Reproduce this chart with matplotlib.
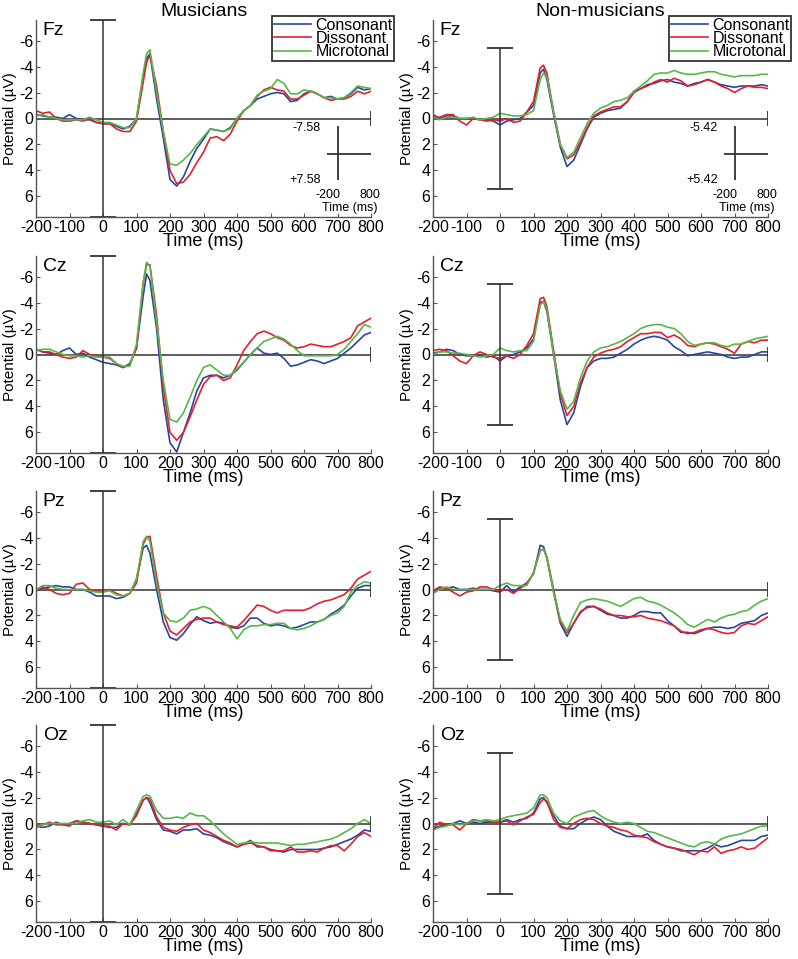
import matplotlib
matplotlib.use("Agg")
import matplotlib.pyplot as plt
import numpy as np

plt.rcParams['font.family'] = ['Liberation Sans', 'DejaVu Sans']
plt.rcParams['axes.unicode_minus'] = False

# time points (ms)
t_ms = list(range(-200, 121, 20)) + [130] + list(range(140, 801, 20))

# ---- Fz ----
fz_mus_con = [-0.3, -0.2, -0.1, -0.1, 0.0, -0.3, 0.0, 0.1, 0.1, 0.3, 0.4, 0.4, 0.6, 0.8, 0.6, 0.0, -3.2, -4.6,
              -5.0, -1.5, 1.5, 4.7, 5.2, 4.5, 3.3, 2.3, 1.6, 0.8, 0.9, 1.0, 0.7, 0.0, -0.6, -1.0, -1.5, -1.7,
              -1.9, -2.0, -1.9, -1.3, -1.4, -1.9, -2.1, -1.9, -1.6, -1.7, -1.5, -1.6, -1.9, -2.4, -2.2, -2.3]
fz_mus_dis = [-0.6, -0.4, -0.5, 0.0, 0.2, 0.2, 0.1, 0.2, 0.0, 0.3, 0.4, 0.4, 0.8, 1.0, 1.0, 0.2, -2.8, -4.3,
              -4.9, -2.5, 1.0, 4.0, 5.0, 4.9, 4.3, 3.4, 2.6, 1.5, 1.4, 1.7, 1.2, 0.2, -0.6, -1.0, -1.7, -2.2,
              -2.4, -2.2, -2.1, -1.5, -1.5, -1.8, -2.1, -1.9, -1.6, -1.4, -1.5, -1.5, -1.7, -2.1, -1.9, -2.1]
fz_mus_mic = [-0.2, -0.3, -0.1, 0.0, 0.1, 0.1, 0.1, 0.1, -0.1, 0.1, 0.3, 0.3, 0.5, 0.7, 0.7, 0.0, -3.5, -5.0,
              -5.3, -2.0, 1.0, 3.5, 3.6, 3.2, 2.7, 2.0, 1.4, 0.8, 0.9, 1.0, 0.8, 0.0, -0.6, -1.0, -1.8, -2.1,
              -2.3, -3.0, -2.7, -1.9, -1.9, -2.2, -2.1, -1.9, -1.6, -1.6, -1.5, -1.6, -2.0, -2.5, -2.4, -2.3]

fz_non_con = [-0.3, 0.0, -0.2, -0.2, 0.0, 0.0, 0.0, 0.1, 0.1, 0.2, 0.5, 0.2, 0.1, 0.0, -0.5, -1.0, -3.5, -3.8,
              -3.0, -0.3, 2.2, 3.7, 3.2, 2.0, 0.8, -0.1, -0.4, -0.6, -0.7, -0.8, -1.3, -2.0, -2.3, -2.6, -2.7, -2.9,
              -3.0, -2.8, -2.7, -2.5, -2.7, -2.8, -3.0, -2.8, -2.6, -2.5, -2.4, -2.5, -2.5, -2.5, -2.6, -2.5]
fz_non_dis = [-0.1, -0.1, -0.3, -0.3, 0.2, 0.5, 0.0, 0.1, 0.2, 0.1, 0.2, 0.0, 0.3, 0.2, -0.5, -1.3, -3.9, -4.1,
              -3.5, -0.5, 2.0, 3.1, 2.8, 1.8, 0.7, -0.2, -0.5, -0.7, -0.9, -0.9, -1.3, -2.1, -2.3, -2.5, -2.8, -3.0,
              -2.8, -3.1, -2.9, -2.5, -2.6, -2.8, -3.0, -2.8, -2.5, -2.3, -2.0, -2.3, -2.5, -2.4, -2.4, -2.3]
fz_non_mic = [-0.1, 0.1, -0.1, -0.1, 0.0, 0.0, -0.1, 0.1, 0.0, -0.1, -0.4, -0.3, -0.2, -0.2, -0.3, -0.6, -3.0, -3.5,
              -3.2, -0.5, 2.0, 3.0, 2.6, 1.5, 0.4, -0.4, -0.8, -1.0, -1.3, -1.4, -1.6, -2.1, -2.5, -2.9, -3.4, -3.5,
              -3.5, -3.7, -3.5, -3.4, -3.4, -3.5, -3.6, -3.6, -3.4, -3.3, -3.2, -3.3, -3.3, -3.3, -3.4, -3.4]

# ---- Cz ----
cz_mus_con = [-0.4, -0.2, -0.1, 0.0, -0.3, -0.5, 0.0, -0.1, 0.2, 0.4, 0.6, 0.7, 0.8, 1.0, 0.7, -0.5, -4.5, -6.2,
              -5.7, -2.0, 3.5, 6.8, 7.5, 6.0, 4.5, 2.8, 1.8, 1.6, 1.6, 1.8, 1.6, 1.2, 0.6, 0.0, -0.5, -0.1,
              0.0, -0.1, 0.3, 0.9, 0.8, 0.6, 0.4, 0.5, 0.7, 0.5, 0.3, -0.1, -0.5, -1.0, -1.5, -1.7]
cz_mus_dis = [-0.4, -0.2, -0.2, 0.0, 0.2, 0.3, 0.2, -0.3, 0.0, 0.1, 0.2, 0.3, 0.7, 1.0, 0.8, -0.5, -5.5, -6.9,
              -6.9, -3.0, 2.5, 6.0, 6.6, 6.0, 4.8, 3.5, 2.3, 1.7, 1.6, 2.0, 1.8, 0.8, -0.3, -1.0, -1.6, -1.8,
              -1.6, -1.3, -1.1, -0.7, -0.5, -0.6, -0.8, -0.7, -0.6, -0.6, -0.8, -1.0, -1.3, -2.2, -2.5, -2.8]
cz_mus_mic = [-0.3, -0.4, -0.4, -0.2, 0.0, 0.1, 0.1, 0.2, 0.1, 0.2, 0.2, 0.2, 0.7, 0.9, 0.9, -0.8, -5.5, -7.1,
              -6.8, -2.5, 2.0, 5.0, 5.2, 4.5, 3.3, 2.0, 1.0, 0.8, 1.2, 1.6, 1.6, 1.1, 0.6, 0.0, -0.5, -1.0,
              -1.2, -1.4, -1.2, -0.8, -0.3, 0.1, 0.1, 0.1, 0.1, 0.1, 0.0, -0.4, -1.0, -1.6, -2.3, -2.1]

cz_non_con = [-0.1, -0.2, -0.4, -0.3, 0.0, 0.1, 0.1, 0.0, 0.2, 0.1, 0.5, 0.1, 0.0, -0.2, -0.5, -1.2, -4.0, -4.1,
              -3.3, 0.0, 3.5, 5.4, 4.5, 2.5, 1.0, 0.5, 0.3, 0.3, 0.2, -0.1, -0.4, -0.8, -1.1, -1.3, -1.4, -1.3,
              -1.1, -0.6, -0.3, 0.1, 0.0, -0.1, -0.2, -0.1, 0.0, 0.2, 0.3, 0.2, 0.2, 0.0, -0.2, -0.2]
cz_non_dis = [-0.3, -0.4, -0.3, 0.1, 0.5, 0.7, 0.1, -0.2, 0.0, 0.2, 0.3, 0.1, 0.3, 0.0, -0.7, -1.6, -4.3, -4.4,
              -3.7, -0.3, 3.0, 4.7, 4.0, 2.2, 1.0, 0.2, -0.1, -0.3, -0.4, -0.6, -1.0, -1.3, -1.6, -1.6, -1.7, -1.7,
              -1.3, -1.5, -1.2, -0.7, -0.6, -0.8, -0.9, -0.8, -0.6, -0.4, -0.1, -0.8, -1.0, -0.9, -1.1, -1.1]
cz_non_mic = [0.0, -0.2, -0.2, -0.1, -0.1, 0.0, 0.1, 0.2, 0.1, 0.0, -0.5, -0.3, -0.2, -0.3, -0.3, -1.0, -3.8, -4.1,
              -3.5, 0.0, 2.8, 4.2, 3.6, 1.8, 0.5, -0.2, -0.5, -0.6, -0.8, -1.0, -1.3, -1.6, -2.0, -2.2, -2.3, -2.3,
              -2.1, -2.0, -1.6, -1.0, -0.7, -0.8, -0.9, -0.9, -0.7, -0.6, -0.8, -0.8, -1.0, -1.2, -1.3, -1.4]

# ---- Pz ----
pz_mus_con = [0.1, -0.1, -0.2, -0.3, -0.2, -0.2, 0.0, 0.0, 0.2, 0.5, 0.5, 0.5, 0.7, 0.6, 0.3, -0.8, -3.2, -3.4,
              -2.8, 0.0, 2.5, 3.7, 3.9, 3.4, 2.7, 2.1, 2.4, 2.6, 2.5, 2.6, 2.9, 3.0, 2.8, 2.2, 2.2, 2.6,
              2.8, 2.7, 2.8, 3.0, 2.9, 2.7, 2.5, 2.5, 2.3, 1.9, 1.6, 1.2, 0.5, -0.1, -0.3, -0.3]
pz_mus_dis = [0.1, -0.2, 0.0, 0.3, 0.4, 0.3, -0.4, -0.5, 0.0, 0.1, 0.2, 0.0, 0.3, 0.5, 0.3, -0.5, -3.5, -4.0,
              -4.1, -1.0, 1.8, 3.2, 3.5, 3.0, 2.5, 2.3, 2.2, 2.2, 2.5, 2.7, 2.8, 2.9, 2.4, 1.8, 1.2, 1.3,
              1.6, 1.8, 1.6, 1.6, 1.6, 1.6, 1.4, 1.1, 0.9, 0.8, 0.6, 0.4, -0.1, -0.8, -1.1, -1.4]
pz_mus_mic = [0.0, -0.3, -0.3, -0.1, 0.0, 0.0, 0.0, 0.0, 0.1, 0.2, 0.2, 0.1, 0.4, 0.5, 0.3, -0.8, -3.7, -4.1,
              -3.7, -0.5, 1.8, 2.4, 2.5, 2.2, 1.6, 1.5, 1.3, 1.5, 2.0, 2.5, 3.0, 3.8, 3.1, 2.8, 2.8, 2.7,
              2.7, 2.6, 2.6, 3.0, 3.1, 3.0, 2.8, 2.5, 2.3, 2.0, 1.8, 1.3, 0.2, -0.3, -0.6, -0.5]

pz_non_con = [0.3, -0.1, -0.1, -0.2, 0.0, 0.0, -0.1, 0.0, 0.0, 0.1, 0.2, -0.3, 0.2, -0.2, -0.5, -1.2, -3.4, -3.3,
              -2.4, 0.2, 2.6, 3.6, 2.6, 1.8, 1.3, 1.3, 1.6, 1.9, 2.0, 2.2, 2.2, 2.0, 1.7, 1.7, 1.8, 1.8,
              2.4, 2.8, 3.3, 3.3, 3.4, 3.2, 3.0, 2.9, 2.9, 3.0, 2.9, 2.6, 2.5, 2.4, 2.0, 1.8]
pz_non_dis = [0.1, -0.2, -0.1, 0.2, 0.5, 0.2, 0.1, -0.2, -0.2, 0.0, 0.1, 0.0, 0.3, -0.1, -0.4, -1.3, -3.0, -3.1,
              -2.5, 0.0, 2.5, 3.3, 2.6, 1.7, 1.4, 1.3, 1.5, 1.8, 2.0, 2.0, 2.1, 2.1, 2.0, 2.2, 2.3, 2.4,
              2.6, 2.8, 3.2, 3.4, 3.3, 3.1, 3.0, 3.1, 3.3, 3.4, 3.3, 2.8, 2.6, 2.7, 2.4, 2.1]
pz_non_mic = [0.3, 0.0, -0.2, 0.0, 0.0, 0.0, 0.0, 0.0, 0.0, 0.0, -0.3, -0.5, -0.3, -0.3, -0.3, -1.3, -3.0, -3.1,
              -2.5, 0.2, 2.3, 3.2, 2.0, 1.0, 0.8, 0.7, 0.8, 0.9, 1.1, 1.3, 1.0, 0.7, 0.6, 0.9, 1.0, 1.2,
              1.5, 1.8, 2.2, 2.7, 2.9, 2.6, 2.3, 2.5, 2.2, 2.0, 1.9, 1.7, 1.6, 1.2, 0.9, 0.7]

# ---- Oz ----
oz_mus_con = [0.2, 0.3, 0.2, -0.1, 0.1, 0.0, -0.2, -0.1, 0.0, 0.1, 0.2, 0.3, 0.3, 0.0, 0.1, -0.8, -1.8, -2.0,
              -1.6, -0.3, 0.5, 0.6, 0.8, 0.5, 0.5, 0.4, 0.8, 0.9, 1.1, 1.4, 1.6, 1.8, 1.6, 1.3, 1.8, 1.8,
              2.0, 2.1, 2.2, 2.0, 2.0, 2.0, 2.0, 2.0, 1.9, 1.8, 1.6, 1.4, 1.2, 0.9, 0.5, 0.6]
oz_mus_dis = [0.3, 0.1, -0.1, 0.1, 0.1, 0.2, -0.2, -0.1, 0.0, 0.1, 0.2, 0.2, 0.5, 0.0, 0.1, -0.6, -1.8, -2.0,
              -1.9, -0.5, 0.3, 0.5, 0.6, 0.3, 0.1, 0.0, 0.5, 0.7, 1.0, 1.3, 1.5, 1.8, 1.6, 1.5, 1.7, 1.8,
              2.1, 2.1, 2.1, 1.8, 2.2, 2.2, 2.1, 2.2, 1.9, 1.7, 1.7, 2.1, 1.6, 1.0, 0.7, 1.0]
oz_mus_mic = [0.2, 0.1, 0.0, 0.0, 0.0, 0.0, 0.0, -0.2, -0.3, -0.1, -0.1, -0.2, 0.1, -0.3, 0.1, -1.0, -2.1, -2.2,
              -2.1, -1.0, -0.4, -0.4, -0.5, -0.4, -0.8, -0.6, -0.6, -0.2, 0.3, 0.8, 1.2, 1.6, 1.5, 1.4, 1.5, 1.5,
              1.5, 1.5, 1.6, 1.7, 1.6, 1.6, 1.5, 1.4, 1.3, 1.2, 1.0, 0.7, 0.4, 0.0, -0.3, 0.0]

oz_non_con = [0.4, 0.2, 0.1, 0.0, -0.2, 0.0, -0.1, 0.0, -0.1, -0.1, -0.1, -0.3, -0.1, -0.3, -0.4, -0.8, -1.9, -2.0,
              -1.6, -0.6, 0.2, 0.4, 0.4, 0.0, -0.3, -0.5, -0.3, 0.2, 0.6, 0.8, 1.0, 1.0, 1.0, 0.8, 1.3, 1.6,
              1.8, 1.9, 2.1, 2.1, 2.1, 2.1, 1.9, 1.6, 1.8, 1.7, 1.5, 1.3, 1.3, 1.3, 1.0, 0.9]
oz_non_dis = [0.4, -0.1, 0.1, 0.1, 0.5, 0.0, -0.3, -0.2, -0.2, -0.1, -0.1, -0.2, 0.1, -0.2, -0.5, -0.7, -1.6, -1.9,
              -1.7, -0.3, 0.3, 0.4, 0.0, -0.3, -0.4, -0.3, 0.0, 0.2, 0.3, 0.5, 0.6, 0.9, 1.0, 1.1, 1.4, 1.6,
              1.8, 1.9, 2.0, 2.2, 2.4, 2.1, 2.2, 1.8, 2.3, 2.1, 2.0, 1.8, 2.0, 1.9, 1.5, 1.1]
oz_non_mic = [0.5, 0.3, 0.2, 0.0, 0.1, 0.0, -0.2, -0.2, -0.3, -0.2, -0.3, -0.5, -0.6, -0.7, -0.8, -1.2, -2.2, -2.2,
              -2.0, -0.8, -0.2, 0.0, -0.5, -0.7, -0.9, -1.0, -0.6, -0.3, -0.1, 0.0, -0.1, 0.0, 0.3, 0.6, 0.7, 0.9,
              1.1, 1.3, 1.5, 1.7, 1.8, 1.5, 1.4, 1.6, 1.2, 1.0, 0.9, 0.8, 0.6, 0.4, 0.2, 0.2]

electrodes = ['Fz', 'Cz', 'Pz', 'Oz']
groups = ['Musicians', 'Non-musicians']
conditions = ['Consonant', 'Dissonant', 'Microtonal']
colors = ['#2a45a0', '#e3202b', '#55b848']
scale_uv = [7.58, 5.42]  # scale bar per group

series = {
    ('Fz', 0): [fz_mus_con, fz_mus_dis, fz_mus_mic],
    ('Fz', 1): [fz_non_con, fz_non_dis, fz_non_mic],
    ('Cz', 0): [cz_mus_con, cz_mus_dis, cz_mus_mic],
    ('Cz', 1): [cz_non_con, cz_non_dis, cz_non_mic],
    ('Pz', 0): [pz_mus_con, pz_mus_dis, pz_mus_mic],
    ('Pz', 1): [pz_non_con, pz_non_dis, pz_non_mic],
    ('Oz', 0): [oz_mus_con, oz_mus_dis, oz_mus_mic],
    ('Oz', 1): [oz_non_con, oz_non_dis, oz_non_mic],
}

fig = plt.figure(figsize=(7.98, 9.59), dpi=100)
W, H = 798.0, 959.0
row_bottom_px = [217, 453, 688, 922]
col_left_px = [36, 433]
ax_w, ax_h = 335, 197
ylim = 7.58
axc = '#333333'

for r, el in enumerate(electrodes):
    for c in range(2):
        ax = fig.add_axes([col_left_px[c] / W, 1 - row_bottom_px[r] / H, ax_w / W, ax_h / H])
        for vals, col, lab in zip(series[(el, c)], colors, conditions):
            ax.plot(t_ms, vals, color=col, lw=1.2, label=lab)
        ax.set_xlim(-200, 800)
        ax.set_ylim(ylim, -ylim)
        # zero line and onset bar
        ax.axhline(0, color=axc, lw=1.1, zorder=1)
        ax.vlines([-200, 800], -0.6, 0.6, color=axc, lw=1.3)
        s = scale_uv[c]
        ax.vlines(0, -s, s, color=axc, lw=1.1, clip_on=False)
        ax.hlines([-s, s], -40, 40, color=axc, lw=1.3, clip_on=False)

        for sp in ['top', 'right']:
            ax.spines[sp].set_visible(False)
        for sp in ['left', 'bottom']:
            ax.spines[sp].set_color('#555555')
            ax.spines[sp].set_linewidth(1.0)
        ax.set_xticks(np.arange(-200, 801, 100))
        ax.set_yticks([-6, -4, -2, 0, 2, 4, 6])
        ax.tick_params(direction='in', length=3, width=0.8, color='#555555', labelsize=11.5, pad=2)
        ax.set_xlabel('Time (ms)', fontsize=13, labelpad=-1)
        ax.set_ylabel('Potential (µV)', fontsize=11, labelpad=1)
        ax.text(0.02, 0.99, el, transform=ax.transAxes, ha='left', va='top', fontsize=14)

        if r == 0:
            ax.set_title(groups[c], fontsize=14, pad=2)
            leg = ax.legend(loc='upper right', bbox_to_anchor=(1.07, 1.02), fontsize=11.5,
                            frameon=True, fancybox=False, handlelength=2.3, handletextpad=0.3,
                            labelspacing=-0.1, borderpad=0.1, borderaxespad=0)
            leg.get_frame().set_edgecolor('black')
            leg.get_frame().set_linewidth(1.3)
            # scale cross
            ax.vlines(700, 0.6, 4.75, color=axc, lw=1.3)
            ax.hlines(2.7, 670, 800, color=axc, lw=1.3)
            ax.text(650, 0.7, '-%.2f' % s, ha='right', va='center', fontsize=9)
            ax.text(650, 4.7, '+%.2f' % s, ha='right', va='center', fontsize=9)
            ax.text(672, 5.9, '-200', ha='center', va='center', fontsize=9)
            ax.text(797, 5.9, '800', ha='center', va='center', fontsize=9)
            ax.text(738, 6.85, 'Time (ms)', ha='center', va='center', fontsize=9)

fig.savefig('out.png', dpi=100)
